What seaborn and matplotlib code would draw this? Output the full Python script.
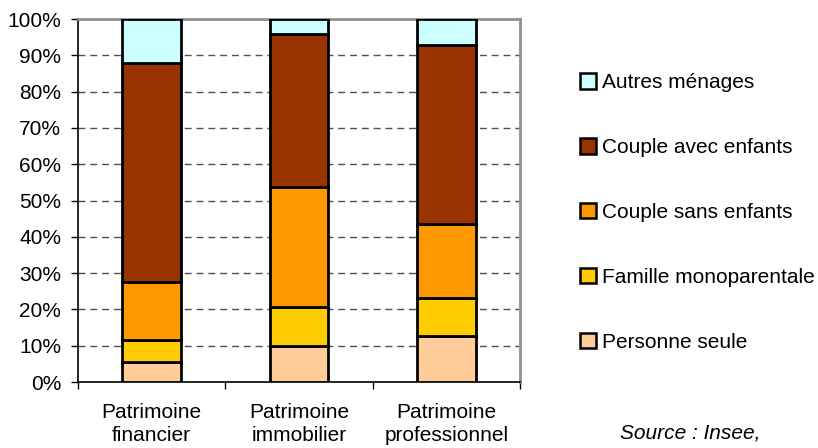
import matplotlib
matplotlib.use("Agg")
import matplotlib.pyplot as plt
import seaborn as sns
import numpy as np
from matplotlib.patches import Patch

categories = ["Patrimoine\nfinancier", "Patrimoine\nimmobilier", "Patrimoine\nprofessionnel"]
series_names = ["Personne seule", "Famille monoparentale", "Couple sans enfants",
                "Couple avec enfants", "Autres ménages"]
personne_seule = [5.4, 9.9, 12.7]
famille_mono = [6.2, 10.7, 10.5]
couple_sans = [15.9, 33.0, 20.2]
couple_avec = [60.5, 42.3, 49.3]
autres = [12.0, 4.1, 7.3]
series_values = [personne_seule, famille_mono, couple_sans, couple_avec, autres]
colors = ["#FFCC99", "#FFCC00", "#FF9900", "#993300", "#CCFFFF"]
y_ticks = list(range(0, 101, 10))
y_tick_labels = [f"{v}%" for v in y_ticks]

sns.set_style("white")
plt.rcParams['font.family'] = ['Liberation Sans', 'DejaVu Sans']
plt.rcParams['text.color'] = 'black'
plt.rcParams['xtick.color'] = 'black'
plt.rcParams['ytick.color'] = 'black'
plt.rcParams['xtick.labelcolor'] = 'black'
plt.rcParams['ytick.labelcolor'] = 'black'

fs = 15
fig = plt.figure(figsize=(8.18, 4.48), dpi=100)
ax = fig.add_axes([78/818, 1-382/448, (520-78)/818, (382-19)/448])

bottom = np.zeros(len(categories))
for name, vals, c in zip(series_names, series_values, colors):
    sns.barplot(x=categories, y=vals, bottom=bottom, color=c, width=0.4,
                edgecolor="black", linewidth=2.0, ax=ax, zorder=3, saturation=1)
    bottom = bottom + np.array(vals)

ax.set_xlim(-0.5, 2.5)
ax.set_ylim(0, 100)
ax.set_yticks(y_ticks)
ax.set_yticklabels(y_tick_labels, fontsize=fs)
for y in y_ticks[1:-1]:
    ax.axhline(y, color="#505050", linewidth=1.0, linestyle=(0, (5, 3.5)), zorder=1)

ax.set_xticks(range(len(categories)))
ax.set_xticklabels(categories, fontsize=fs, linespacing=1.25)
ax.tick_params(axis="x", which="major", length=0, pad=15)
ax.set_xticks([-0.5, 0.5, 1.5, 2.5], minor=True)
ax.tick_params(axis="x", which="minor", length=5, width=1, color="black", direction="out")
ax.tick_params(axis="y", length=5, width=1, color="black", direction="out", pad=7)
ax.tick_params(axis="both", bottom=True, left=True, which="both")

for s in ["top", "right"]:
    ax.spines[s].set_color("#909090")
    ax.spines[s].set_linewidth(2)
for s in ["left", "bottom"]:
    ax.spines[s].set_color("black")
    ax.spines[s].set_linewidth(1.2)
ax.set_xlabel("")
ax.set_ylabel("")

handles = [Patch(facecolor=c, edgecolor="black", linewidth=1.8) for c in colors][::-1]
labels = series_names[::-1]
fig.legend(handles, labels, loc="upper left", bbox_to_anchor=(572/818, 1-65/448),
           frameon=False, fontsize=fs, handlelength=0.75, handleheight=0.75,
           handletextpad=0.3, labelspacing=2.2, borderaxespad=0)

fig.text(690/818, 1-433/448, "Source : Insee,", fontsize=fs, style="italic",
         ha="center", va="center")

fig.savefig("out.png", dpi=100)
